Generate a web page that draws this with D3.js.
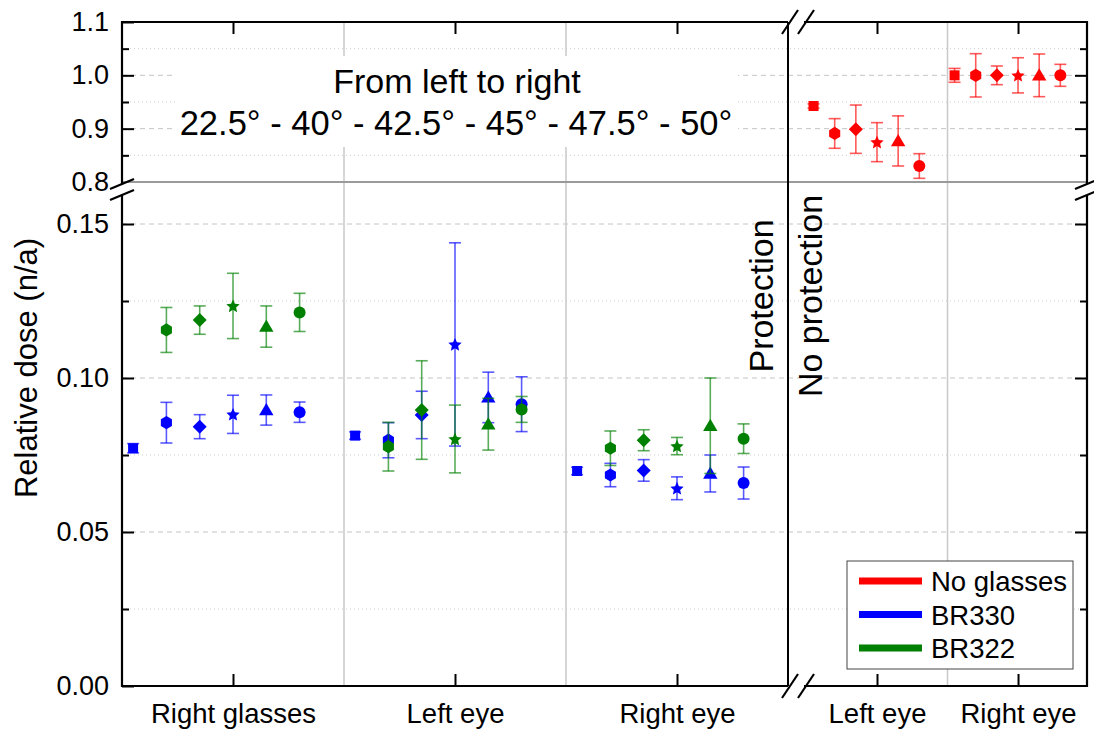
<!DOCTYPE html>
<html><head><meta charset="utf-8">
<script src="https://cdn.jsdelivr.net/npm/d3@7"></script>
<style>body{margin:0;background:#fff;} svg{display:block;font-family:"Liberation Sans",Arial,sans-serif;}</style>
</head><body><svg id="c" width="1094" height="729"></svg>
<script>
// ---------- data ----------
const angleLabels = ["22.5°", "40°", "42.5°", "45°", "47.5°", "50°"];
const markerShapes = ["square", "hexagon", "diamond", "star", "triangle", "circle"];
const protCategories = ["Right glasses", "Left eye", "Right eye"];
const noProtCategories = ["Left eye", "Right eye"];
const seriesNames = ["No glasses", "BR330", "BR322"];
const seriesColors = ["#ff0000", "#0000ff", "#008000"];

const br330Values = [
  [0.0772, 0.0855, 0.0842, 0.0882, 0.0896, 0.0889],
  [0.0813, 0.0798, 0.0880, 0.1109, 0.0937, 0.0915],
  [0.0698, 0.0685, 0.0700, 0.0642, 0.0690, 0.0659]
];
const br330Errors = [
  [0.0015, 0.0066, 0.0039, 0.0062, 0.0049, 0.0033],
  [0.0012, 0.0057, 0.0077, 0.0330, 0.0082, 0.0089],
  [0.0012, 0.0038, 0.0035, 0.0037, 0.0060, 0.0052]
];
const br322Values = [
  [null, 0.1156, 0.1188, 0.1234, 0.1167, 0.1213],
  [null, 0.0777, 0.0896, 0.0802, 0.0850, 0.0898],
  [null, 0.0772, 0.0798, 0.0779, 0.0845, 0.0803]
];
const br322Errors = [
  [null, 0.0073, 0.0046, 0.0106, 0.0067, 0.0062],
  [null, 0.0079, 0.0160, 0.0110, 0.0084, 0.0042],
  [null, 0.0056, 0.0034, 0.0028, 0.0155, 0.0048]
];
const noGlassesValues = [
  [0.9425, 0.891, 0.899, 0.8747, 0.877, 0.830],
  [1.000, 1.000, 1.000, 1.000, 1.000, 1.000]
];
const noGlassesErrors = [
  [0.004, 0.0278, 0.0453, 0.0366, 0.047, 0.0231],
  [0.013, 0.0406, 0.0175, 0.033, 0.040, 0.0206]
];
const angleOffsets = [-0.45, -0.3, -0.15, 0, 0.15, 0.3];

const lowMajor = [0, 0.05, 0.10, 0.15];
const lowMinor = [0.025, 0.075, 0.125];
const highMajor = [0.9, 1.0, 1.1];
const highMinor = [0.85, 0.95, 1.05];

// ---------- layout ----------
const svg = d3.select("#c");
const L = 122, R = 1087, T = 22, B = 686, BY = 182, BX = 788;
const yLow = d3.scaleLinear().domain([0, 0.16364]).range([B, BY]);
const yHigh = d3.scaleLinear().domain([0.8, 1.1]).range([BY, T]);
const xProt = d3.scaleLinear().domain([0.5, 3.5]).range([L, BX]);
const xNo = d3.scaleLinear().domain([0.369, 2.489]).range([BX, R]);

// ---------- grid ----------
const grid = svg.append("g");
function hgrid(vals, scale, dash, col) {
  grid.selectAll(null).data(vals).enter().append("line")
    .attr("x1", L).attr("x2", R)
    .attr("y1", d => scale(d)).attr("y2", d => scale(d))
    .attr("stroke", col).attr("stroke-width", 1).attr("stroke-dasharray", dash);
}
hgrid([0.05, 0.10, 0.15], yLow, "5,4", "#c4c4c4");
hgrid(lowMinor, yLow, "1,3", "#cfcfcf");
hgrid([0.9, 1.0], yHigh, "5,4", "#c4c4c4");
hgrid(highMinor, yHigh, "1,3", "#cfcfcf");

// separators
grid.selectAll(null).data([1.5, 2.5]).enter().append("line")
  .attr("x1", d => xProt(d)).attr("x2", d => xProt(d)).attr("y1", T).attr("y2", B)
  .attr("stroke", "#c8c8c8").attr("stroke-width", 1.5);
grid.append("line").attr("x1", xNo(1.5)).attr("x2", xNo(1.5)).attr("y1", T).attr("y2", B)
  .attr("stroke", "#c8c8c8").attr("stroke-width", 1.5);

// annotation box
svg.append("rect").attr("x", 176).attr("y", 56).attr("width", 562).attr("height", 91).attr("fill", "#fff");
svg.append("text").attr("x", 457).attr("y", 93).attr("text-anchor", "middle")
  .attr("font-size", 34).text("From left to right");
svg.append("text").attr("x", 456).attr("y", 135).attr("text-anchor", "middle")
  .attr("font-size", 34.5).text(angleLabels.join(" - "));

// horizontal break line
svg.append("line").attr("x1", L).attr("x2", R).attr("y1", BY).attr("y2", BY)
  .attr("stroke", "#9a9a9a").attr("stroke-width", 2);

// ---------- axes ----------
function styleAxis(g) {
  g.select(".domain").remove();
  g.selectAll(".tick line").attr("stroke", "#000").attr("stroke-width", 2);
  g.selectAll("text").attr("fill", "#000").attr("font-family", '"Liberation Sans",Arial,sans-serif');
}
const fmtLow = d3.format(".2f"), fmtHigh = d3.format(".1f");
svg.append("g").attr("transform", `translate(${L},0)`)
  .call(d3.axisLeft(yLow).tickValues(lowMajor).tickSize(-12).tickPadding(13).tickFormat(fmtLow))
  .call(styleAxis).attr("font-size", 27);
svg.append("g").attr("transform", `translate(${L},0)`)
  .call(d3.axisLeft(yLow).tickValues(lowMinor).tickSize(-7).tickFormat(""))
  .call(styleAxis);
svg.append("g").attr("transform", `translate(${L},0)`)
  .call(d3.axisLeft(yHigh).tickValues(highMajor).tickSize(-12).tickPadding(13).tickFormat(fmtHigh))
  .call(styleAxis).attr("font-size", 27);
svg.append("g").attr("transform", `translate(${L},0)`)
  .call(d3.axisLeft(yHigh).tickValues(highMinor).tickSize(-7).tickFormat(""))
  .call(styleAxis);
// "0.8" label at break
svg.append("text").attr("x", L - 13).attr("y", yHigh(0.8)).attr("dy", "0.32em")
  .attr("text-anchor", "end").attr("font-size", 27).text(fmtHigh(0.8));

// right axis mirrored ticks
svg.append("g").attr("transform", `translate(${R},0)`)
  .call(d3.axisRight(yLow).tickValues(lowMajor.slice(1)).tickSize(-12).tickFormat("")).call(styleAxis);
svg.append("g").attr("transform", `translate(${R},0)`)
  .call(d3.axisRight(yLow).tickValues(lowMinor).tickSize(-7).tickFormat("")).call(styleAxis);
svg.append("g").attr("transform", `translate(${R},0)`)
  .call(d3.axisRight(yHigh).tickValues([0.9, 1.0]).tickSize(-12).tickFormat("")).call(styleAxis);
svg.append("g").attr("transform", `translate(${R},0)`)
  .call(d3.axisRight(yHigh).tickValues(highMinor).tickSize(-7).tickFormat("")).call(styleAxis);

// bottom axes
svg.append("g").attr("transform", `translate(0,${B})`)
  .call(d3.axisBottom(xProt).tickValues([1, 2, 3]).tickSize(-12).tickPadding(17)
    .tickFormat(d => protCategories[d - 1]))
  .call(styleAxis).attr("font-size", 27.5);
svg.append("g").attr("transform", `translate(0,${B})`)
  .call(d3.axisBottom(xNo).tickValues([1, 2]).tickSize(-12).tickPadding(17)
    .tickFormat(d => noProtCategories[d - 1]))
  .call(styleAxis).attr("font-size", 27.5);
// top axes
svg.append("g").attr("transform", `translate(0,${T})`)
  .call(d3.axisTop(xProt).tickValues([1, 2, 3]).tickSize(-12).tickFormat("")).call(styleAxis);
svg.append("g").attr("transform", `translate(0,${T})`)
  .call(d3.axisTop(xNo).tickValues([1, 2]).tickSize(-12).tickFormat("")).call(styleAxis);

// axis frame lines with breaks
const frame = svg.append("g").attr("stroke", "#000").attr("stroke-width", 2.2).attr("fill", "none");
frame.append("line").attr("x1", L).attr("x2", L).attr("y1", T - 1).attr("y2", BY + 2);
frame.append("line").attr("x1", L).attr("x2", L).attr("y1", BY + 13).attr("y2", B + 1);
frame.append("line").attr("x1", R).attr("x2", R).attr("y1", T - 1).attr("y2", BY + 2);
frame.append("line").attr("x1", R).attr("x2", R).attr("y1", BY + 13).attr("y2", B + 1);
frame.append("line").attr("x1", L - 1).attr("x2", BX).attr("y1", B).attr("y2", B);
frame.append("line").attr("x1", BX + 16).attr("x2", R + 1).attr("y1", B).attr("y2", B);
frame.append("line").attr("x1", L - 1).attr("x2", BX).attr("y1", T).attr("y2", T);
frame.append("line").attr("x1", BX + 16).attr("x2", R + 1).attr("y1", T).attr("y2", T);
// panel divider
svg.append("line").attr("x1", BX).attr("x2", BX).attr("y1", T).attr("y2", B)
  .attr("stroke", "#000").attr("stroke-width", 2);
// break slashes
const sl = svg.append("g").attr("stroke", "#000").attr("stroke-width", 2.2);
[[L, BY + 2], [L, BY + 13], [R, BY + 2], [R, BY + 13]].forEach(([x, y]) => {
  sl.append("line").attr("x1", x - 12).attr("y1", y + 5).attr("x2", x + 12).attr("y2", y - 5);
});
[[BX, B], [BX + 16, B], [BX, T], [BX + 16, T]].forEach(([x, y]) => {
  sl.append("line").attr("x1", x - 6).attr("y1", y + 12).attr("x2", x + 10).attr("y2", y - 12);
});

// vertical labels
svg.append("text").attr("transform", "translate(37,368) rotate(-90)")
  .attr("text-anchor", "middle").attr("font-size", 31).text("Relative dose (n/a)");
svg.append("text").attr("transform", "translate(773,296) rotate(-90)")
  .attr("text-anchor", "middle").attr("font-size", 34).text("Protection");
svg.append("text").attr("transform", "translate(822,296) rotate(-90)")
  .attr("text-anchor", "middle").attr("font-size", 34).text("No protection");

// ---------- markers ----------
function shapePath(kind) {
  switch (kind) {
    case "square": return "M-5,-5H5V5H-5Z";
    case "circle": { const p = d3.path(); p.arc(0, 0, 6, 0, 2 * Math.PI); return p.toString(); }
    case "hexagon": {
      const pts = d3.range(6).map(i => { const a = Math.PI / 2 + i * Math.PI / 3; return [6.4 * Math.cos(a), -6.6 * Math.sin(a)]; });
      return "M" + pts.map(p => p.join(",")).join("L") + "Z";
    }
    case "diamond": return "M0,-7L7,0L0,7L-7,0Z";
    case "triangle": return "M0,-7L7.2,5.2L-7.2,5.2Z";
    case "star": {
      const pts = d3.range(10).map(i => { const r = i % 2 ? 3.3 : 7; const a = -Math.PI / 2 + i * Math.PI / 5; return [r * Math.cos(a), r * Math.sin(a) + 0.6]; });
      return "M" + pts.map(p => p.join(",")).join("L") + "Z";
    }
  }
}

function drawSeries(values, errors, xScale, yScale, color) {
  const g = svg.append("g");
  values.forEach((row, ci) => {
    row.forEach((v, ai) => {
      if (v === null) return;
      const e = errors[ci][ai];
      const x = xScale(ci + 1 + angleOffsets[ai]);
      const y0 = yScale(v - e), y1 = yScale(v + e);
      const eb = g.append("g").attr("stroke", color).attr("stroke-opacity", 0.65).attr("stroke-width", 1.6);
      eb.append("line").attr("x1", x).attr("x2", x).attr("y1", y0).attr("y2", y1);
      eb.append("line").attr("x1", x - 6).attr("x2", x + 6).attr("y1", y0).attr("y2", y0);
      eb.append("line").attr("x1", x - 6).attr("x2", x + 6).attr("y1", y1).attr("y2", y1);
      g.append("path").attr("d", shapePath(markerShapes[ai]))
        .attr("transform", `translate(${x},${yScale(v)})`).attr("fill", color);
    });
  });
}
drawSeries(br330Values, br330Errors, xProt, yLow, seriesColors[1]);
drawSeries(br322Values, br322Errors, xProt, yLow, seriesColors[2]);
drawSeries(noGlassesValues, noGlassesErrors, xNo, yHigh, seriesColors[0]);

// ---------- legend ----------
const lg = svg.append("g");
lg.append("rect").attr("x", 847).attr("y", 561).attr("width", 226).attr("height", 108)
  .attr("fill", "#fff").attr("stroke", "#444").attr("stroke-width", 1);
seriesNames.forEach((n, i) => {
  const y = 581 + i * 33.5;
  lg.append("line").attr("x1", 859).attr("x2", 922).attr("y1", y).attr("y2", y)
    .attr("stroke", seriesColors[i]).attr("stroke-width", 7);
  lg.append("text").attr("x", 931).attr("y", y + 10).attr("font-size", 27.5).text(n);
});
</script>
</body></html>
